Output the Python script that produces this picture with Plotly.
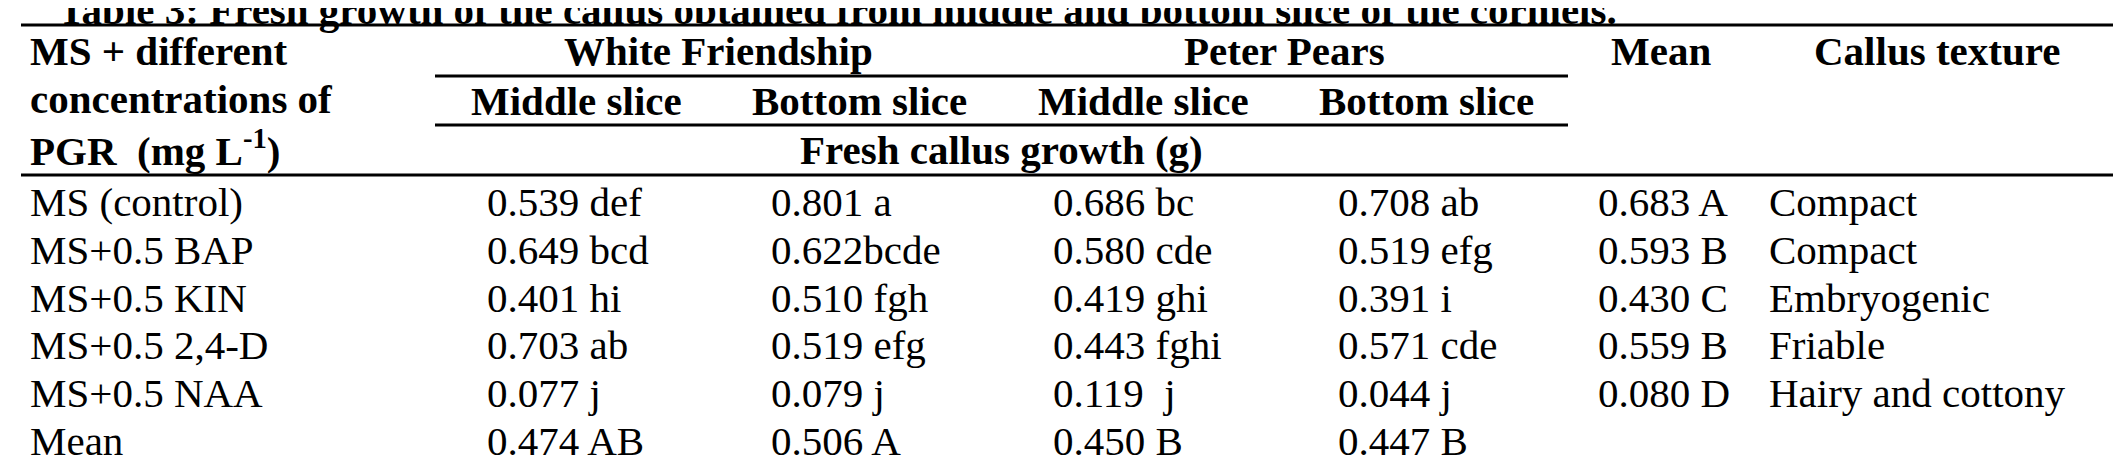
import plotly.graph_objects as go

title = "Table 3: Fresh growth of the callus obtained from middle and bottom slice of the cormels."
treatments = ["MS (control)", "MS+0.5 BAP", "MS+0.5 KIN", "MS+0.5 2,4-D", "MS+0.5 NAA", "Mean"]
wf_middle = ["0.539 def", "0.649 bcd", "0.401 hi", "0.703 ab", "0.077 j", "0.474 AB"]
wf_bottom = ["0.801 a", "0.622bcde", "0.510 fgh", "0.519 efg", "0.079 j", "0.506 A"]
pp_middle = ["0.686 bc", "0.580 cde", "0.419 ghi", "0.443 fghi", "0.119  j", "0.450 B"]
pp_bottom = ["0.708 ab", "0.519 efg", "0.391 i", "0.571 cde", "0.044 j", "0.447 B"]
row_means = ["0.683 A", "0.593 B", "0.430 C", "0.559 B", "0.080 D", ""]
textures = ["Compact", "Compact", "Embryogenic", "Friable", "Hairy and cottony", ""]
sub_headers = ["Middle slice", "Bottom slice", "Middle slice", "Bottom slice"]
cultivars = ["White Friendship", "Peter Pears"]

W, H = 2121, 458
FONT = "Liberation Serif, Times New Roman, serif"
FS = 41

fig = go.Figure()
ann = []
def txt(x, y, s, bold=False, anchor="left", yanchor="middle"):
    ann.append(dict(x=x, y=y, xref="x", yref="y", text=(f"<b>{s}</b>" if bold else s),
                    showarrow=False, xanchor=anchor, yanchor=yanchor,
                    font=dict(family=FONT, size=FS, color="black")))

# title (clipped at top)
txt(48, 27, title, bold=True, yanchor="bottom")

# header
txt(20, 43, "MS + different", bold=True)
txt(20, 91, "concentrations of", bold=True)
txt(20, 140, "PGR  (mg L<sup>-1</sup>)", bold=True)
cell_edges = [427, 709, 993, 1277, 1560]
for i, c in enumerate(cultivars):
    txt((cell_edges[2*i] + cell_edges[2*i+2]) / 2, 43, c, bold=True, anchor="center")
for i, s in enumerate(sub_headers):
    txt((cell_edges[i] + cell_edges[i+1]) / 2, 93, s, bold=True, anchor="center")
txt(993, 142, "Fresh callus growth (g)", bold=True, anchor="center")
txt(1653, 43, "Mean", bold=True, anchor="center")
txt(1929, 43, "Callus texture", bold=True, anchor="center")

# body
col_x = [20, 477, 761, 1043, 1328, 1588, 1759]
cols = [treatments, wf_middle, wf_bottom, pp_middle, pp_bottom, row_means, textures]
for ci, col in enumerate(cols):
    for ri, s in enumerate(col):
        if s:
            txt(col_x[ci], 194 + 47.8 * ri, s.replace("  ", "&nbsp; "))

fig.update_layout(annotations=ann)

lines = [(13, 2109, 17, 3), (427, 1560, 68, 3), (427, 1560, 117, 3),
         (13, 2109, 167, 3), (13, 2109, 455, 3.5)]
for x0, x1, y, w in lines:
    fig.add_shape(type="line", x0=x0, x1=x1, y0=y, y1=y, xref="x", yref="y",
                  line=dict(color="black", width=w))

fig.update_layout(width=W, height=H, margin=dict(l=0, r=0, t=0, b=0),
                  paper_bgcolor="white", plot_bgcolor="white", showlegend=False,
                  xaxis=dict(range=[0, W], visible=False, fixedrange=True),
                  yaxis=dict(range=[H, 0], visible=False, fixedrange=True))
fig.write_html("out.html", config={"displayModeBar": False})
